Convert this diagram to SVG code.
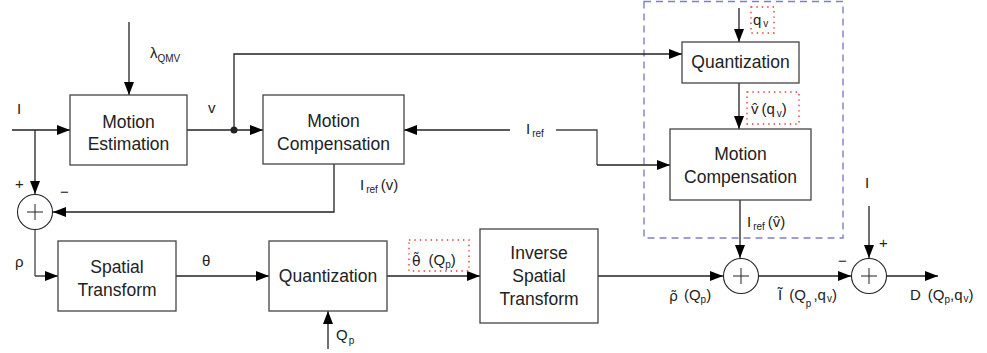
<svg xmlns="http://www.w3.org/2000/svg" width="987" height="353" viewBox="0 0 987 353">
<defs>
<marker id="ah" markerUnits="userSpaceOnUse" markerWidth="14" markerHeight="10" refX="13" refY="5" orient="auto">
<path d="M0,0 L13,5 L0,10 Z" fill="#000"/>
</marker>
<style>
.box{fill:#fff;stroke:#444;stroke-width:1.3}
.ln{fill:none;stroke:#444;stroke-width:1.3}
.ar{fill:none;stroke:#222;stroke-width:1.3;marker-end:url(#ah)}
.sum{fill:#fff;stroke:#222;stroke-width:1.1}
.pl{stroke:#222;stroke-width:1}
.t{font-family:"Liberation Sans",Arial,sans-serif;font-size:17.5px;fill:#222;text-anchor:middle}
.l{font-family:"Liberation Sans",Arial,sans-serif;font-size:15px;fill:#222}
.dj{font-family:"DejaVu Sans",sans-serif;font-size:14px}
.s{font-size:10px}
.dot{fill:none;stroke:#e33;stroke-width:1.4;stroke-dasharray:1.4 4}
.dash{fill:none;stroke:#7f7fc4;stroke-width:1.4;stroke-dasharray:7 5}
</style>
</defs>
<rect x="0" y="0" width="987" height="353" fill="#fff"/>

<rect class="dash" x="644" y="1.5" width="199" height="236.5"/>

<g id="connectors">
<path class="ar" d="M129,22 V95"/>
<path class="ar" d="M12,130 H70"/>
<path class="ar" d="M35,130 V194"/>
<path class="ar" d="M187,130 H263"/>
<circle cx="234" cy="130" r="3.5" fill="#222"/>
<path class="ar" d="M234,130 V54 H682"/>
<path class="ar" d="M510,130 H404"/>
<path class="ln" d="M556,130 H597 V165"/>
<path class="ar" d="M597,165 H670"/>
<path class="ar" d="M334,164 V212 H53"/>
<path class="ln" d="M35,229 V276"/>
<path class="ar" d="M35,276 H58"/>
<path class="ar" d="M176,276 H269"/>
<path class="ar" d="M328,349 V311"/>
<path class="ar" d="M387,276 H480"/>
<path class="ar" d="M598,276 H723"/>
<path class="ar" d="M739,8 V42"/>
<path class="ar" d="M739,83 V129"/>
<path class="ar" d="M740,200 V258"/>
<path class="ar" d="M758,276 H851"/>
<path class="ar" d="M869,206 V258"/>
<path class="ar" d="M887,276 H938"/>
</g>

<g id="motion-estimation">
<rect class="box" x="70" y="95" width="117" height="70"/>
<text class="t" x="128.5" y="128">Motion</text>
<text class="t" x="128.5" y="150">Estimation</text>
</g>
<g id="motion-compensation-1">
<rect class="box" x="263" y="95" width="141" height="69"/>
<text class="t" x="333.5" y="127">Motion</text>
<text class="t" x="333.5" y="150">Compensation</text>
</g>
<g id="quantization-v">
<rect class="box" x="682" y="42" width="117" height="41"/>
<text class="t" x="740.5" y="68">Quantization</text>
</g>
<g id="motion-compensation-2">
<rect class="box" x="670" y="129" width="141" height="71"/>
<text class="t" x="740.5" y="160">Motion</text>
<text class="t" x="740.5" y="183">Compensation</text>
</g>
<g id="spatial-transform">
<rect class="box" x="58" y="241" width="118" height="70"/>
<text class="t" x="117" y="273">Spatial</text>
<text class="t" x="117" y="296">Transform</text>
</g>
<g id="quantization-p">
<rect class="box" x="269" y="241" width="118" height="70"/>
<text class="t" x="328" y="282">Quantization</text>
</g>
<g id="inverse-spatial-transform">
<rect class="box" x="480" y="229" width="118" height="94"/>
<text class="t" x="539" y="259">Inverse</text>
<text class="t" x="539" y="282">Spatial</text>
<text class="t" x="539" y="305">Transform</text>
</g>

<g id="sum-1">
<circle class="sum" cx="35" cy="212" r="17.5"/>
<path class="pl" d="M27,212 H43 M35,204 V220"/>
</g>
<g id="sum-2">
<circle class="sum" cx="741" cy="276" r="17.5"/>
<path class="pl" d="M733,276 H749 M741,268 V284"/>
</g>
<g id="sum-3">
<circle class="sum" cx="869" cy="276" r="17.5"/>
<path class="pl" d="M861,276 H877 M869,268 V284"/>
</g>

<g id="labels">
<text class="l" x="150" y="58">λ<tspan class="s" dy="4">QMV</tspan></text>
<text class="l" x="17" y="114">I</text>
<text class="l" x="208" y="113">v</text>
<text class="l" x="526" y="134">I<tspan class="s" dx="2" dy="3">ref</tspan></text>
<text class="l" x="360" y="190">I<tspan class="s" dx="2" dy="3">ref</tspan><tspan dx="3" dy="-3">(v)</tspan></text>
<text class="l" x="15" y="189">+</text>
<text class="l" x="60" y="197">−</text>
<text class="l" x="15" y="267">ρ</text>
<text class="l" x="202" y="266">θ</text>
<text class="l" x="412" y="266"><tspan class="dj">θ̃</tspan><tspan dx="8" dy="-1">(Q</tspan><tspan class="s" dy="3">p</tspan><tspan dy="-3">)</tspan></text>
<rect class="dot" x="409" y="240" width="60" height="31"/>
<text class="l" x="336" y="340">Q<tspan class="s" dx="1" dy="4">p</tspan></text>
<text class="l" x="753" y="25">q<tspan class="s" dx="2" dy="2">v</tspan></text>
<rect class="dot" x="751" y="7" width="23" height="26"/>
<text class="l" x="751" y="114">v̂<tspan dx="3">(q</tspan><tspan class="s" dx="2" dy="3">v</tspan><tspan dy="-3">)</tspan></text>
<rect class="dot" x="747" y="92" width="52" height="32"/>
<text class="l" x="747" y="227">I<tspan class="s" dx="2" dy="3">ref</tspan><tspan dx="3" dy="-3">(v̂)</tspan></text>
<text class="l" x="669" y="301"><tspan class="dj">ρ̃</tspan><tspan dx="6" dy="-1">(Q</tspan><tspan class="s" dy="3">p</tspan><tspan dy="-3">)</tspan></text>
<text class="l" x="778" y="300">Ĩ<tspan dx="7">(Q</tspan><tspan class="s" dy="7">p</tspan><tspan dx="2" dy="-7">,q</tspan><tspan class="s" dx="1" dy="2">v</tspan><tspan dy="-2">)</tspan></text>
<text class="l" x="865" y="188">I</text>
<text class="l" x="879" y="248">+</text>
<text class="l" x="838" y="266">−</text>
<text class="l" x="910" y="300">D<tspan dx="7">(Q</tspan><tspan class="s" dy="3">p</tspan><tspan dy="-3">,q</tspan><tspan class="s" dx="1" dy="2">v</tspan><tspan dy="-2">)</tspan></text>
</g>
</svg>
